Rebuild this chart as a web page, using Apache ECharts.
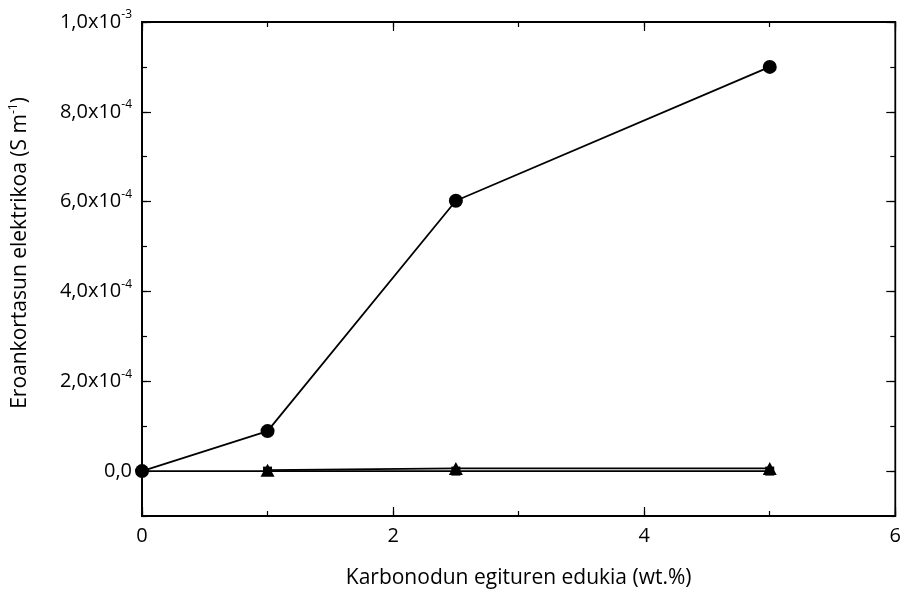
<!DOCTYPE html>
<html><head><meta charset="utf-8">
<script src="https://cdn.jsdelivr.net/npm/echarts@6/dist/echarts.min.js"></script>
<style>html,body{margin:0;padding:0;background:#fff}#c{width:904px;height:594px}</style>
</head><body><div id="c"></div>
<script>
// Data
const xCircle = [0, 1, 2.5, 5];
const yCircle = [0, 8.9e-5, 6.02e-4, 9.0e-4];
const xZero = [0, 1, 2.5, 5];
const yZero = [0, 0, 0, 0];
const xTriangle = [1, 2.5, 5];
const yTriangle = [2e-6, 6e-6, 6e-6];
const yMajorTicks = [0, 2e-4, 4e-4, 6e-4, 8e-4, 1e-3];
const xMajorTicks = [0, 2, 4, 6];
const xTitle = 'Karbonodun egituren edukia (wt.%)';
const yTitle = 'Eroankortasun elektrikoa (S m{sup|-1})';

const FONT = 'Open Sans';
const pairs = (xs, ys) => xs.map((x, i) => [x, ys[i]]);
function yFmt(v) {
  if (Math.abs(v) < 1e-12) return '0,0';
  const s = v.toExponential(1); // e.g. 8.0e-4
  const [m, e] = s.split('e');
  return m.replace('.', ',') + 'x10{sup|' + e.replace('+', '') + '}';
}
const yMin = -1e-4, yMax = 1e-3;
const common = {axisLine:{show:false, onZero:false}, splitLine:{show:false}};
const tickStyle = {color:'#000', width:1.2};
const LW = 1.8;
const chart = echarts.init(document.getElementById('c'));
chart.setOption({
  animation: false,
  grid: {left: 142, right: 7, top: 22, bottom: 77, show: true, borderColor: '#000', borderWidth: 1.8, containLabel: false},
  xAxis: [
    {type:'value', min:0, max:6, interval:1, position:'bottom',
     axisLine:{show:true, onZero:false, lineStyle:{color:'#000', width:1.8}},
     axisTick:{show:true, inside:true, length:5, lineStyle:tickStyle},
     axisLabel:{show:true, customValues:xMajorTicks, color:'#000', fontFamily:FONT, fontSize:20, margin:10},
     splitLine:{show:false},
     name:xTitle, nameLocation:'middle', nameGap:52, nameTextStyle:{color:'#000', fontFamily:FONT, fontSize:21}},
    {type:'value', min:0, max:6, position:'bottom', ...common,
     axisTick:{show:true, inside:true, length:9, customValues:xMajorTicks, lineStyle:tickStyle},
     axisLabel:{show:false}},
    {type:'value', min:0, max:6, interval:1, position:'top', ...common,
     axisTick:{show:true, inside:true, length:5, lineStyle:tickStyle},
     axisLabel:{show:false}},
    {type:'value', min:0, max:6, position:'top', ...common,
     axisTick:{show:true, inside:true, length:9, customValues:xMajorTicks, lineStyle:tickStyle},
     axisLabel:{show:false}}
  ],
  yAxis: [
    {type:'value', min:yMin, max:yMax, interval:1e-4, position:'left',
     axisLine:{show:true, onZero:false, lineStyle:{color:'#000', width:1.8}},
     axisTick:{show:true, inside:true, length:5, lineStyle:tickStyle},
     axisLabel:{show:true, customValues:yMajorTicks, formatter:yFmt, color:'#000', fontFamily:FONT, fontSize:20, margin:10,
       rich:{sup:{fontSize:12, verticalAlign:'top', padding:[0,0,14,0], fontFamily:FONT, color:'#000'}}},
     splitLine:{show:false},
     name:yTitle, nameLocation:'middle', nameGap:110, nameRotate:90,
     nameTextStyle:{color:'#000', fontFamily:FONT, fontSize:21, padding:[0,0,0,32],
       rich:{sup:{fontSize:12, padding:[0,0,12,0], fontFamily:FONT, color:'#000'}}}},
    {type:'value', min:yMin, max:yMax, position:'left', ...common,
     axisTick:{show:true, inside:true, length:9, customValues:yMajorTicks, lineStyle:tickStyle},
     axisLabel:{show:false}},
    {type:'value', min:yMin, max:yMax, interval:1e-4, position:'right', ...common,
     axisTick:{show:true, inside:true, length:5, lineStyle:tickStyle},
     axisLabel:{show:false}},
    {type:'value', min:yMin, max:yMax, position:'right', ...common,
     axisTick:{show:true, inside:true, length:9, customValues:yMajorTicks, lineStyle:tickStyle},
     axisLabel:{show:false}}
  ],
  series: [
    {type:'line', data:pairs(xZero, yZero), symbol:'rect', symbolSize:9, showSymbol:true,
     lineStyle:{color:'#000', width:LW}, itemStyle:{color:'#000'}},
    {type:'line', data:pairs(xTriangle, yTriangle), symbol:'triangle', symbolSize:[14,13], showSymbol:true,
     lineStyle:{color:'#000', width:LW}, itemStyle:{color:'#000'}},
    {type:'line', data:pairs(xCircle, yCircle), symbol:'circle', symbolSize:14, showSymbol:true,
     lineStyle:{color:'#000', width:LW}, itemStyle:{color:'#000'}}
  ]
});
</script></body></html>
